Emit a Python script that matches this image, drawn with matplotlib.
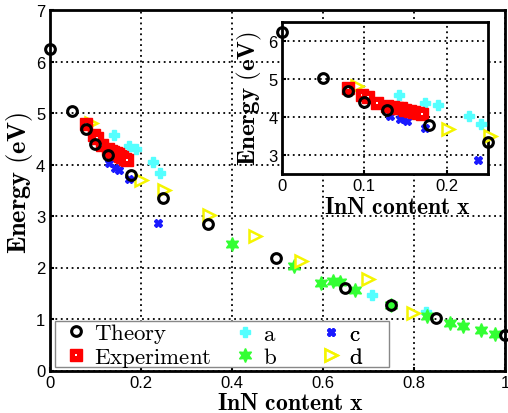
import numpy as np
import matplotlib
matplotlib.use("Agg")
import matplotlib.pyplot as plt
from matplotlib.patches import Rectangle
from matplotlib.legend_handler import HandlerTuple

plt.rcParams['font.family'] = ['Liberation Sans', 'DejaVu Sans']
plt.rcParams['mathtext.fontset'] = 'cm'

# data
theory_x = [0.0, 0.05, 0.08, 0.10, 0.128, 0.178, 0.25, 0.348, 0.498, 0.648, 0.75, 0.849, 1.0]
theory_y = [6.25, 5.03, 4.69, 4.40, 4.18, 3.79, 3.35, 2.85, 2.19, 1.60, 1.28, 1.02, 0.69]

exp_x = [0.08, 0.097, 0.105, 0.115, 0.128, 0.135, 0.14, 0.145, 0.15, 0.155, 0.16, 0.165, 0.17]
exp_y = [4.78, 4.58, 4.52, 4.38, 4.30, 4.27, 4.25, 4.23, 4.20, 4.16, 4.14, 4.11, 4.08]

a_x = [0.142, 0.174, 0.189, 0.227, 0.242, 0.709, 0.827]
a_y = [4.58, 4.36, 4.31, 4.04, 3.83, 1.47, 1.14]

b_x = [0.401, 0.536, 0.597, 0.623, 0.637, 0.67, 0.75, 0.829, 0.88, 0.907, 0.948, 0.978]
b_y = [2.45, 2.03, 1.69, 1.74, 1.72, 1.57, 1.28, 1.05, 0.92, 0.87, 0.79, 0.71]

c_x = [0.107, 0.131, 0.143, 0.152, 0.174, 0.238]
c_y = [4.55, 4.03, 3.94, 3.89, 3.72, 2.87]

d_x = [0.091, 0.201, 0.252, 0.35, 0.451, 0.553, 0.699, 0.798]
d_y = [4.81, 3.69, 3.51, 3.02, 2.62, 2.12, 1.77, 1.11]

W, H = 508, 414
fig = plt.figure(figsize=(W / 100, H / 100), dpi=100)
ax = fig.add_axes([49.5 / W, 1 - 371.5 / H, (505 - 49.5) / W, (371.5 - 11) / H])
ins = fig.add_axes([281.7 / W, 1 - 175 / H, (488 - 281.7) / W, (175 - 23.3) / H])

cyan = '#55ffff'
green = '#33ff33'
blue = '#1a1aff'
yellow = '#f5f500'
red = '#ff0000'


def draw(a, xmax=None):
    def sel(xs, ys):
        xs = np.array(xs)
        ys = np.array(ys)
        if xmax is None:
            return xs, ys
        m = xs <= xmax
        return xs[m], ys[m]

    h = {}
    x, y = sel(theory_x, theory_y)
    h['t'], = a.plot(x, y, 'o', ms=7, mfc='none', mec='k', mew=2.2, clip_on=False, zorder=5)
    x, y = sel(exp_x, exp_y)
    # each square with its little white centre, drawn in order so later squares cover earlier dots
    for xi, yi in zip(x, y):
        h['e'], = a.plot([xi], [yi], 's', ms=8.5, mfc=red, mec=red, mew=1, clip_on=False, zorder=4)
        h['e2'], = a.plot([xi], [yi], 's', ms=1.5, mfc='white', mec='white', mew=0, clip_on=False, zorder=4)
    x, y = sel(a_x, a_y)
    h['a'], = a.plot(x, y, 'P', ms=7, color=cyan, mec=cyan, clip_on=False, zorder=3)
    x, y = sel(b_x, b_y)
    h['b'], = a.plot(x, y, marker=(6, 1, 0), ls='none', ms=10, color=green, mec=green, clip_on=False, zorder=3)
    x, y = sel(c_x, c_y)
    h['c'], = a.plot(x, y, 'X', ms=5.5, color=blue, mec=blue, clip_on=False, zorder=3)
    x, y = sel(d_x, d_y)
    h['d'], = a.plot(x, y, '>', ms=9, mfc='white', mec=yellow, mew=1.8, clip_on=False, zorder=3)
    a.grid(True, color='k', linestyle=(0, (1, 2)), linewidth=1.3)
    a.set_axisbelow(True)
    for s in a.spines.values():
        s.set_linewidth(2)
    a.tick_params(direction='in', length=3, width=1.5, labelsize=12, pad=3)
    return h


h = draw(ax)
ax.set_xlim(0, 1)
ax.set_ylim(0, 7)
ax.set_xticks([0, 0.2, 0.4, 0.6, 0.8, 1])
ax.set_xticklabels(['0', '0.2', '0.4', '0.6', '0.8', '1'])
ax.set_yticks(range(8))
ax.set_xlabel(r'$\mathbf{InN\ content\ x}$', fontsize=17)
ax.set_ylabel(r'$\mathbf{Energy\ (eV)}$', fontsize=19)
ax.xaxis.set_label_coords(0.528, -0.060)
ax.yaxis.set_label_coords(-0.031, 0.523)

# legend: white box with three columns
ax.add_patch(Rectangle((0.0121, 0.0097), 0.7332, 0.1276, transform=ax.transAxes,
                       facecolor='white', edgecolor='#888888', lw=1, zorder=6, clip_on=False))
cols = [([h['t'], (h['e'], h['e2'])], ['Theory', 'Experiment'], 0.0331),
        ([h['a'], h['b']], ['a', 'b'], 0.4044),
        ([h['c'], h['d']], ['c', 'd'], 0.5930)]
for handles, labels, x0 in cols:
    lg = ax.legend(handles, [r'$\mathrm{%s}$' % s for s in labels],
                   handler_map={tuple: HandlerTuple(ndivide=1)},
                   loc='center left', bbox_to_anchor=(x0, 0.0713),
                   fontsize=16.5, frameon=False, borderpad=0, borderaxespad=0,
                   labelspacing=0.0, handlelength=1.0, handletextpad=0.3)
    lg.set_zorder(7)
    ax.add_artist(lg)

draw(ins, xmax=0.255)
ins.set_xlim(0, 0.25)
ins.set_ylim(2.5, 6.5)
ins.set_xticks([0, 0.1, 0.2])
ins.set_xticklabels(['0', '0.1', '0.2'])
ins.set_yticks([3, 4, 5, 6])
ins.set_xlabel(r'$\mathbf{InN\ content\ x}$', fontsize=17, va='top')
ins.set_ylabel(r'$\mathbf{Energy\ (eV)}$', fontsize=18)
ins.xaxis.set_label_coords(0.561, -0.145)
ins.yaxis.set_label_coords(-0.085, 0.505)

fig.savefig('out.png', dpi=100)
